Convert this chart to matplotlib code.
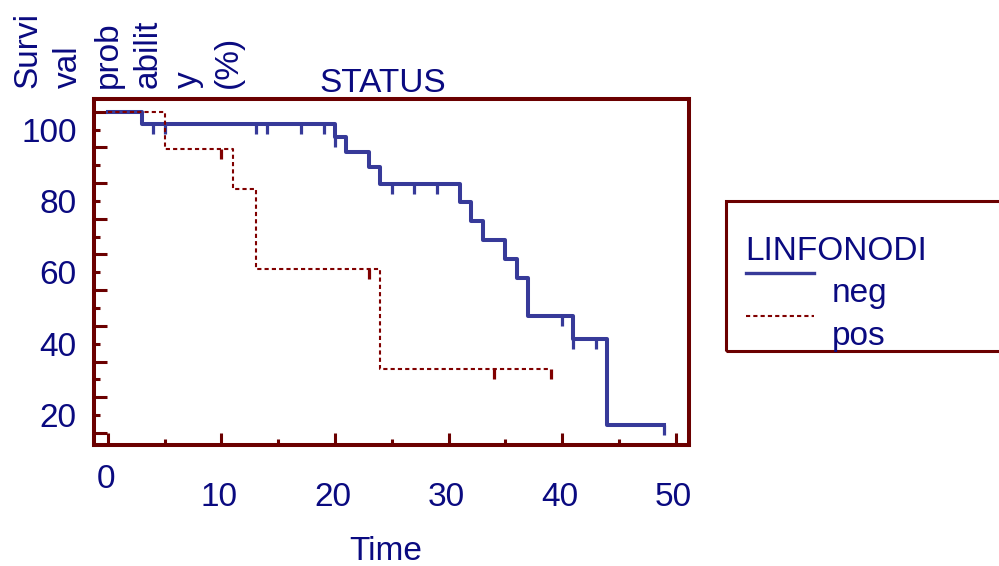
import numpy as np
import matplotlib
matplotlib.use('Agg')
import matplotlib.pyplot as plt
from matplotlib.transforms import ScaledTranslation
from matplotlib.patches import Rectangle
from matplotlib.lines import Line2D

plt.rcParams['font.family'] = ['Liberation Sans', 'DejaVu Sans']

# LINFONODI = neg
neg_times = [0, 3, 20, 21, 23, 24, 31, 32, 33, 35, 36, 37, 41, 44]
neg_surv = [100, 96.6, 93.0, 88.6, 84.5, 79.8, 74.6, 69.4, 64.1, 58.7, 53.5, 42.8, 36.4, 12.2]
neg_end = 49
neg_cens = [4, 5, 13, 14, 17, 19, 20, 25, 27, 29, 40, 41, 43, 49]

# LINFONODI = pos
pos_times = [0, 5, 11, 13, 24]
pos_surv = [100, 89.6, 78.3, 55.9, 27.9]
pos_end = 39
pos_cens = [10, 23, 34, 39]

x_ticks = [0, 10, 20, 30, 40, 50]
y_ticks = [10, 20, 30, 40, 50, 60, 70, 80, 90, 100]
y_labels = ['', '20', '', '40', '', '60', '', '80', '', '100']
ylabel_parts = ['Survi', 'val', 'prob', 'abilit', 'y', '(%)']

navy = '#0a0a80'
blue = '#373a99'
dred = '#800000'
frame = '#6b0000'

W, H = 999, 566
fig = plt.figure(figsize=(W / 100, H / 100), dpi=100)
ax = fig.add_axes([0.0941, 0.2133, 0.5953, 0.6113])
ax.set_xlim(-1.23, 51.16)
ax.set_ylim(6.55, 103.47)


def km(ax, times, surv, end, cens, color, **kw):
    t = np.append(times, end)
    s = np.append(surv, surv[-1])
    ax.step(t, s, where='post', color=color, **kw)
    idx = np.searchsorted(times, cens, side='right') - 1
    cy = np.array(surv)[idx]
    ax.vlines(cens, cy - 2.8, cy, color=color, lw=2.3, zorder=kw.get('zorder', 2))


km(ax, neg_times, neg_surv, neg_end, neg_cens, blue, lw=2.9, zorder=2)
km(ax, pos_times, pos_surv, pos_end, pos_cens, dred, lw=1.5,
   linestyle=(0, (2, 1.5)), zorder=3)

for sp in ax.spines.values():
    sp.set_color(frame)
    sp.set_linewidth(2.9)

ax.set_xticks(x_ticks, labels=[str(v) for v in x_ticks])
ax.set_xticks(np.arange(5, 50, 10), minor=True)
ax.set_yticks(y_ticks, labels=y_labels)
ax.set_yticks(np.arange(15, 100, 10), minor=True)
ax.tick_params(which='both', direction='in', color=frame, width=2.2,
               labelsize=24, labelcolor=navy)
ax.tick_params(which='major', length=9)
ax.tick_params(which='minor', length=4.5)
ax.tick_params(axis='x', pad=13.5)
ax.tick_params(axis='y', pad=12.5)

# labels sit a bit off the ticks in the original
for lab in ax.get_yticklabels():
    lab.set_transform(lab.get_transform() + ScaledTranslation(0, -0.1785, fig.dpi_scale_trans))
for lab in ax.get_xticklabels():
    dy = 0 if lab.get_text() == '0' else -0.18
    lab.set_transform(lab.get_transform() + ScaledTranslation(-0.02, dy, fig.dpi_scale_trans))

ax.set_title('STATUS', x=0.486, pad=-2, fontsize=24, color=navy)
ax.set_xlabel('Time', fontsize=24, color=navy, va='baseline')
ax.xaxis.set_label_coords(0.49, -0.3315)

for i, part in enumerate(ylabel_parts):
    fig.text((36.7 + 40 * i) / W, 1 - 87.5 / H, part, rotation=90,
             rotation_mode='anchor', ha='left', va='baseline',
             fontsize=24, color=navy)

# legend box
fig.add_artist(Rectangle((726 / W, 1 - 351 / H), (W + 20 - 726) / W, 150.3 / H,
                         transform=fig.transFigure, fill=False, ec=frame,
                         lw=2.2, clip_on=False))
fig.text(745 / W, 1 - 260 / H, 'LINFONODI', fontsize=24, color=navy,
         ha='left', va='baseline')
fig.add_artist(Line2D([746 / W, 814 / W], [1 - 272.7 / H] * 2, color=blue, lw=2.4,
                      transform=fig.transFigure))
fig.text(832 / W, 1 - 301.7 / H, 'neg', fontsize=24, color=navy,
         ha='left', va='baseline')
fig.add_artist(Line2D([746 / W, 814 / W], [1 - 315.7 / H] * 2, color=dred, lw=1.5,
                      linestyle=(0, (2, 1.5)), transform=fig.transFigure))
fig.text(832 / W, 1 - 345 / H, 'pos', fontsize=24, color=navy,
         ha='left', va='baseline')

fig.savefig('out.png', dpi=100)
